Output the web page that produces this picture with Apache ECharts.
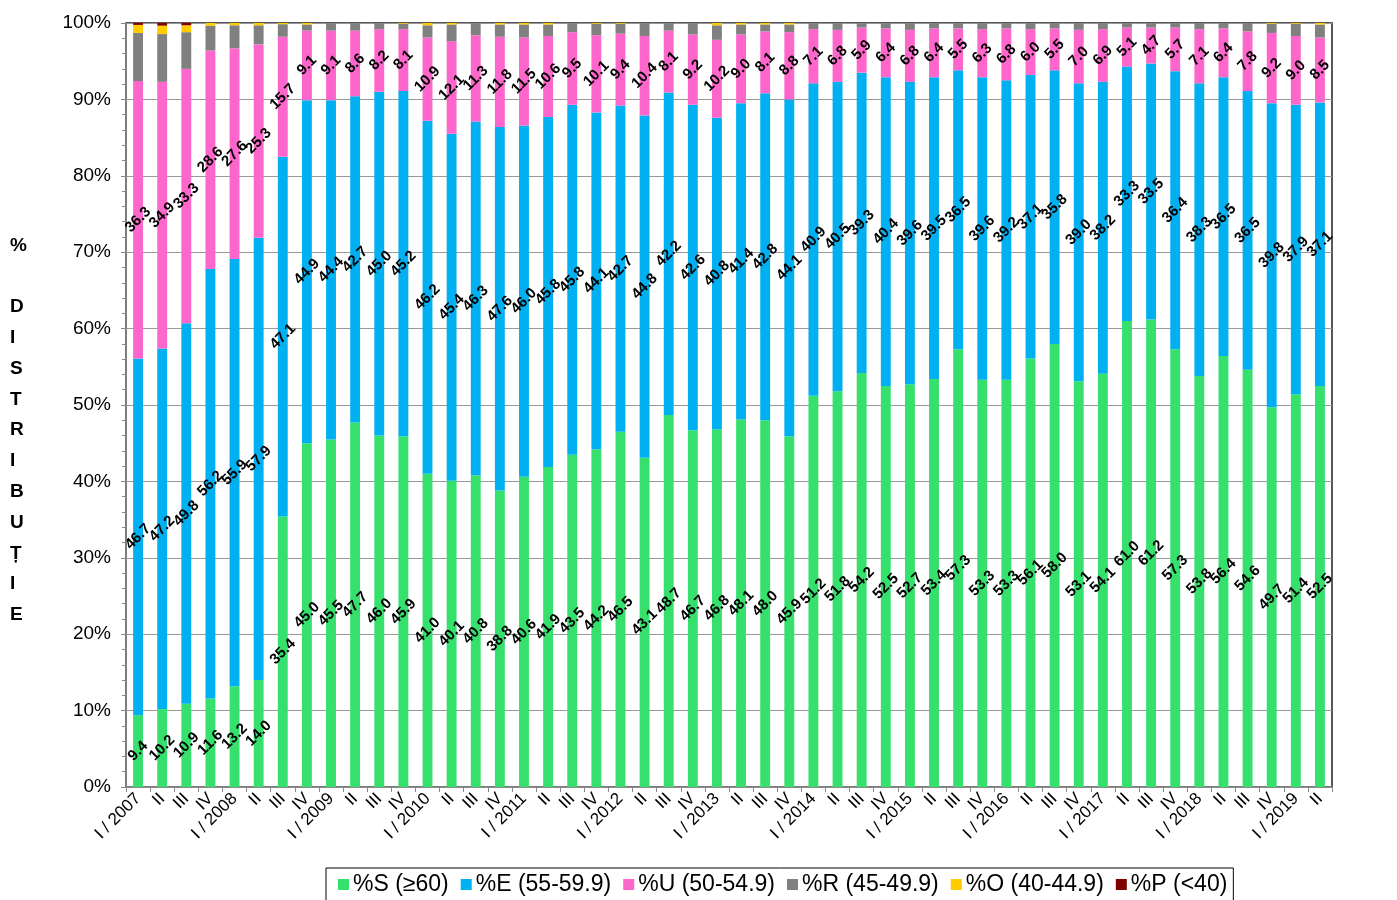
<!DOCTYPE html>
<html><head><meta charset="utf-8">
<script src="https://cdn.jsdelivr.net/npm/echarts@6/dist/echarts.min.js"></script>
<style>html,body{margin:0;padding:0;background:#fff}#c{width:1397px;height:900px}</style>
</head><body><div id="c"></div>
<script>
const categories = ["I / 2007","II","III","IV","I / 2008","II","III","IV","I / 2009","II","III","IV","I / 2010","II","III","IV","I / 2011","II","III","IV","I / 2012","II","III","IV","I / 2013","II","III","IV","I / 2014","II","III","IV","I / 2015","II","III","IV","I / 2016","II","III","IV","I / 2017","II","III","IV","I / 2018","II","III","IV","I / 2019","II"];
const seriesNames = ["%S (≥60)","%E (55-59.9)","%U (50-54.9)","%R (45-49.9)","%O (40-44.9)","%P (<40)"];
const S = [9.4,10.2,10.9,11.6,13.2,14.0,35.4,45.0,45.5,47.7,46.0,45.9,41.0,40.1,40.8,38.8,40.6,41.9,43.5,44.2,46.5,43.1,48.7,46.7,46.8,48.1,48.0,45.9,51.2,51.8,54.2,52.5,52.7,53.4,57.3,53.3,53.3,56.1,58.0,53.1,54.1,61.0,61.2,57.3,53.8,56.4,54.6,49.7,51.4,52.5];
const E = [46.7,47.2,49.8,56.2,55.9,57.9,47.1,44.9,44.4,42.7,45.0,45.2,46.2,45.4,46.3,47.6,46.0,45.8,45.8,44.1,42.7,44.8,42.2,42.6,40.8,41.4,42.8,44.1,40.9,40.5,39.3,40.4,39.6,39.5,36.5,39.6,39.2,37.1,35.8,39.0,38.2,33.3,33.5,36.4,38.3,36.5,36.5,39.8,37.9,37.1];
const U = [36.3,34.9,33.3,28.6,27.6,25.3,15.7,9.1,9.1,8.6,8.2,8.1,10.9,12.1,11.3,11.8,11.5,10.6,9.5,10.1,9.4,10.4,8.1,9.2,10.2,9.0,8.1,8.8,7.1,6.8,5.9,6.4,6.8,6.4,5.5,6.3,6.8,6.0,5.5,7.0,6.9,5.1,4.7,5.7,7.1,6.4,7.8,9.2,9.0,8.5];
const R = [6.3,6.25,4.8,3.25,3.0,2.5,1.65,0.8,1.0,1.0,0.8,0.7,1.6,2.2,1.6,1.6,1.7,1.5,1.2,1.5,1.3,1.7,1.0,1.5,1.9,1.3,0.9,1.0,0.8,0.9,0.6,0.7,0.9,0.7,0.7,0.8,0.7,0.8,0.7,0.9,0.8,0.6,0.6,0.6,0.8,0.7,1.1,1.2,1.6,1.7];
const O = [1.05,1.1,0.9,0.35,0.3,0.3,0.15,0.2,0,0,0,0.1,0.3,0.2,0,0.2,0.2,0.2,0,0.1,0.1,0,0,0,0.3,0.2,0.2,0.2,0,0,0,0,0,0,0,0,0,0,0,0,0,0,0,0,0,0,0,0.1,0.1,0.2];
const P = [0.25,0.35,0.3,0,0,0,0,0,0,0,0,0,0,0,0,0,0,0,0,0,0,0,0,0,0,0,0,0,0,0,0,0,0,0,0,0,0,0,0,0,0,0,0,0,0,0,0,0,0,0];
const yTicks = ["0%","10%","20%","30%","40%","50%","60%","70%","80%","90%","100%"];
const colors = ["#35e06c","#00b0f0","#ff66cc","#808080","#ffcc00","#800000"];

const font = "'Liberation Sans', Arial, sans-serif";
const allData = [S,E,U,R,O,P];
const series = allData.map((d,i)=>({
  name: seriesNames[i], type:'bar', stack:'t', data:d, barWidth:'41%',
  itemStyle:{color:colors[i]},
  label: i<3 ? {show:true, position:'inside', rotate:45, color:'#000', fontFamily:font, fontWeight:'bold', fontSize:15,
     formatter:p=>p.value.toFixed(1)} : {show:false},
  emphasis:{disabled:true}
}));
const chart = echarts.init(document.getElementById('c'), null, {renderer:'canvas'});
chart.setOption({
  animation:false,
  color: colors,
  grid:{left:126, right:65, top:23, bottom:113, show:true, borderColor:'#222', borderWidth:1.5, containLabel:false},
  legend:{left:326, top:868, itemGap:12, itemWidth:11, itemHeight:11, icon:'rect', borderColor:'#000', borderWidth:1, padding:[5,6,8,12],
    textStyle:{fontFamily:font, fontSize:23, color:'#000', padding:[0,0,0,-1]}, data:seriesNames},
  xAxis:{type:'category', data:categories, boundaryGap:true,
    axisLine:{lineStyle:{color:'#888', width:1.5}},
    axisTick:{show:true, alignWithLabel:false, length:5, lineStyle:{color:'#888'}},
    axisLabel:{interval:0, rotate:45, fontFamily:font, fontSize:17, color:'#000', margin:9}},
  yAxis:{type:'value', min:0, max:100, interval:10,
    axisLine:{show:true, lineStyle:{color:'#888', width:1.5}},
    axisTick:{show:true, length:5, lineStyle:{color:'#888'}},
    minorTick:{show:true, splitNumber:5, length:4, lineStyle:{color:'#888'}},
    splitLine:{show:true, lineStyle:{color:'#999', width:1.2}},
    axisLabel:{fontFamily:font, fontSize:19, color:'#000', margin:15, formatter:(v)=>yTicks[Math.round(v/10)]}},
  graphic:[{type:'text', left:10, top:230, style:{text:'%\n\nD\nI\nS\nT\nR\nI\nB\nU\nȚ\nI\nE', fontFamily:font, fontWeight:'bold', fontSize:19, lineHeight:30.8, fill:'#000', align:'center'}}],
  series: series
});
</script></body></html>
